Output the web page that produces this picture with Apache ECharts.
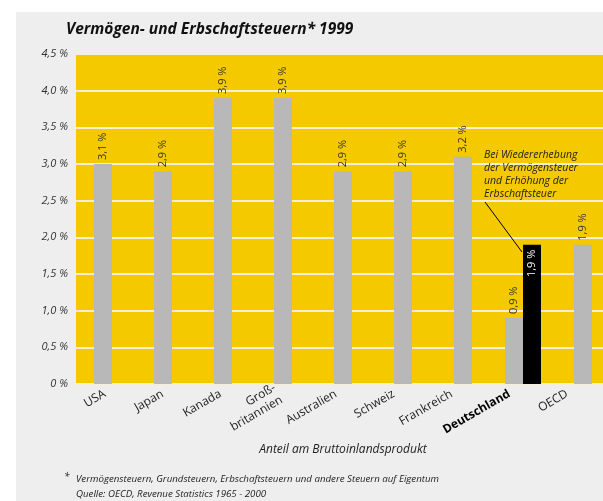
<!DOCTYPE html>
<html><head><meta charset="utf-8">
<script src="https://cdn.jsdelivr.net/npm/echarts@6/dist/echarts.min.js"></script>
<style>html,body{margin:0;padding:0;background:#fff;overflow:hidden;width:603px;height:501px}#c{width:613px;height:501px}</style>
</head><body><div id="c"></div>
<script>
const categories = ['USA','Japan','Kanada','Groß-\nbritannien','Australien','Schweiz','Frankreich','Deutschland','OECD'];
const mainValues = [3.0, 2.9, 3.9, 3.9, 2.9, 2.9, 3.1, null, 1.9];
const mainLabels = ['3,1 %','2,9 %','3,9 %','3,9 %','2,9 %','2,9 %','3,2 %','','1,9 %'];
const deValues = [null,null,null,null,null,null,null,0.9,null];
const deLabels = ['','','','','','','','0,9 %',''];
const deNewValues = [null,null,null,null,null,null,null,1.9,null];
const deNewLabels = ['','','','','','','','1,9 %',''];
const yTicks = ['0 %','0,5 %','1,0 %','1,5 %','2,0 %','2,5 %','3,0 %','3,5 %','4,0 %','4,5 %'];
const FONT = '"Open Sans", sans-serif';

const chart = echarts.init(document.getElementById('c'), null, {renderer:'canvas'});
const toData = a => a.map(v => v === null ? '-' : v);
const lbl = arr => ({
  show: true, position: 'top', rotate: 90, align: 'left', verticalAlign: 'middle',
  distance: 4, fontSize: 11, color: '#333', fontFamily: FONT,
  formatter: p => arr[p.dataIndex]
});
chart.setOption({
  backgroundColor: '#ffffff',
  animation: false,
  graphic: [
    {type:'rect', z:-10, shape:{x:16,y:12,width:620,height:500}, style:{fill:'#eeeeee'}},
    {type:'rect', z:-9, shape:{x:76,y:54,width:540,height:330}, style:{fill:'#f5c900'}},
    {type:'text', z:100, x:66, y:22, style:{text:'Vermögen- und Erbschaftsteuern* 1999', font:'italic bold 15.5px '+FONT, fill:'#111'}},
    {type:'text', z:100, x:484, y:149, style:{text:'Bei Wiedererhebung\nder Vermögensteuer\nund Erhöhung der\nErbschaftsteuer', font:'italic 10.5px '+FONT, fill:'#222', lineHeight:13}},
    {type:'line', z:100, shape:{x1:485,y1:202,x2:522,y2:252}, style:{stroke:'#000', lineWidth:1}},
    {type:'text', z:100, x:343, y:444, style:{text:'Anteil am Bruttoinlandsprodukt', font:'italic 12px '+FONT, fill:'#222', textAlign:'center'}},
    {type:'text', z:100, x:64, y:472, style:{text:'*', font:'italic 10px '+FONT, fill:'#222'}},
    {type:'text', z:100, x:76, y:472, style:{text:'Vermögensteuern, Grundsteuern, Erbschaftsteuern und andere Steuern auf Eigentum\nQuelle: OECD, Revenue Statistics 1965 - 2000', font:'italic 9.7px '+FONT, fill:'#222', lineHeight:15}}
  ],
  grid: [
    {left:73, top:54, width:540, height:330, show:false},
    {left:76, top:54, width:520, height:330, show:false}
  ],
  xAxis: [
    {type:'category', gridIndex:0, data:categories, axisLine:{show:false}, axisTick:{show:false}, axisLabel:{show:false}},
    {type:'category', gridIndex:0, data:categories, show:false},
    {type:'category', gridIndex:1, data:categories, axisLine:{show:false}, axisTick:{show:false},
     axisLabel:{interval:0, rotate:30, fontSize:12, color:'#222', fontFamily:FONT, margin:9, lineHeight:14,
       formatter: v => v === 'Deutschland' ? '{b|'+v+'}' : v,
       rich:{b:{fontWeight:'bold', fontSize:12, color:'#000', fontFamily:FONT}}}}
  ],
  yAxis: [
    {type:'value', gridIndex:1, min:0, max:4.5, interval:0.5,
     axisLine:{show:false}, axisTick:{show:false}, splitLine:{show:false},
     axisLabel:{fontSize:11, fontStyle:'italic', color:'#333', fontFamily:FONT, margin:8,
       formatter: (v) => yTicks[Math.round(v*2)]}},
    {type:'value', gridIndex:0, min:0, max:4.5, interval:0.5,
     axisLine:{show:false}, axisTick:{show:false}, axisLabel:{show:false},
     splitLine:{show:true, lineStyle:{color:'#f4efda', width:2}}}
  ],
  series: [
    {type:'bar', xAxisIndex:0, yAxisIndex:1, data:toData(mainValues), barWidth:18, itemStyle:{color:'#b8b8b8'}, label:lbl(mainLabels)},
    {type:'bar', xAxisIndex:1, yAxisIndex:1, data:toData(deValues), barWidth:18, barGap:'0%', itemStyle:{color:'#b8b8b8'}, label:lbl(deLabels)},
    {type:'bar', xAxisIndex:1, yAxisIndex:1, data:toData(deNewValues), barWidth:18, barGap:'0%', itemStyle:{color:'#000'},
     label:{show:true, position:'insideTop', rotate:90, align:'right', verticalAlign:'middle', distance:5,
       fontSize:11, color:'#fff', fontFamily:FONT, formatter:p => deNewLabels[p.dataIndex]}}
  ]
});
</script></body></html>
